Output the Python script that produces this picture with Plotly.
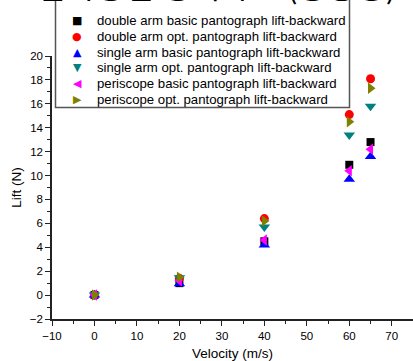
import plotly.graph_objects as go

velocity = [0, 20, 40, 60, 65]
names = [
    "double arm basic pantograph lift-backward",
    "double arm opt. pantograph lift-backward",
    "single arm basic pantograph lift-backward",
    "single arm opt. pantograph lift-backward",
    "periscope basic pantograph lift-backward",
    "periscope opt. pantograph lift-backward",
]
double_basic = [0, 1.0, 4.5, 10.9, 12.8]
double_opt = [0, 1.4, 6.4, 15.1, 18.1]
single_basic = [0, 0.95, 4.2, 9.7, 11.6]
single_opt = [0, 1.45, 5.7, 13.4, 15.8]
peri_basic = [0, 1.2, 4.6, 10.4, 12.2]
peri_opt = [0, 1.5, 6.2, 14.5, 17.3]

series = [double_basic, double_opt, single_basic, single_opt, peri_basic, peri_opt]
colors = ["#000000", "#FF0000", "#0000FF", "#008080", "#FF00FF", "#808000"]
symbols = ["square", "circle", "triangle-up", "triangle-down", "triangle-left", "triangle-right"]
glyphs = ["■", "●", "▲", "▼", "◀", "▶"]
sizes = [8, 9, 10, 10, 10, 10]

W, H = 413, 361
ML, MR, MT, MB = 52, 0, 56, 37
PW, PH = W - ML - MR, H - MT - MB


def px(x):
    return (x - ML) / PW


def py(y):
    return 1 + (MT - y) / PH


fig = go.Figure()
for n, s, c, sym, sz in zip(names, series, colors, symbols, sizes):
    fig.add_trace(go.Scatter(x=velocity, y=s, mode="markers", name=n, showlegend=False,
                             marker=dict(color=c, symbol=sym, size=sz, line=dict(width=0))))

fig.update_layout(
    width=W, height=H,
    margin=dict(l=ML, r=MR, t=MT, b=MB, pad=0),
    plot_bgcolor="white", paper_bgcolor="white",
    font=dict(family="Liberation Sans, Arial", size=12, color="#000000"),
    showlegend=False,
    xaxis=dict(range=[-10, 75], tickvals=[-10, 0, 10, 20, 30, 40, 50, 60, 70],
               showline=True, linecolor="#222222", linewidth=1.5,
               ticks="outside", ticklen=5, tickwidth=1.2, tickcolor="#222222",
               minor=dict(dtick=5, ticks="outside", ticklen=3, tickcolor="#222222", tickwidth=1.2),
               showgrid=False, zeroline=False,
               title=dict(text="Velocity (m/s)", font=dict(size=13.5), standoff=10),
               tickfont=dict(size=11.5)),
    yaxis=dict(range=[-2, 20], tickvals=list(range(-2, 21, 2)),
               showline=True, linecolor="#222222", linewidth=1.5,
               ticks="outside", ticklen=5, tickwidth=1.2, tickcolor="#222222",
               minor=dict(dtick=1, ticks="outside", ticklen=3, tickcolor="#222222", tickwidth=1.2),
               showgrid=False, zeroline=False,
               title=dict(text="Lift (N)", font=dict(size=13.5), standoff=5),
               tickfont=dict(size=11.5)),
)

# legend box (drawn manually to match compact row spacing)
fig.add_shape(type="rect", xref="paper", yref="paper",
              x0=px(55.5), x1=px(349.5), y0=py(108.5), y1=py(-5),
              line=dict(color="#555555", width=1.5), fillcolor="white", layer="above")
row_y = [20, 36, 52, 68, 84, 100]
for n, c, g, ry in zip(names, colors, glyphs, row_y):
    fig.add_annotation(text=g, xref="paper", yref="paper", x=px(77), y=py(ry),
                       xanchor="center", yanchor="middle", showarrow=False,
                       font=dict(family="DejaVu Sans", size=11, color=c))
    fig.add_annotation(text=n, xref="paper", yref="paper", x=px(95), y=py(ry),
                       xanchor="left", yanchor="middle", showarrow=False,
                       font=dict(family="Liberation Sans, Arial", size=13.2, color="#000000"))

fig.add_annotation(text="3. 검사방법 정리 수표(상승량)", xref="paper", yref="paper",
                   x=-0.14, y=1.178, xanchor="left", yanchor="bottom", showarrow=False,
                   font=dict(family="Noto Sans CJK KR", size=32, color="#000000"))

fig.write_html("out.html")
